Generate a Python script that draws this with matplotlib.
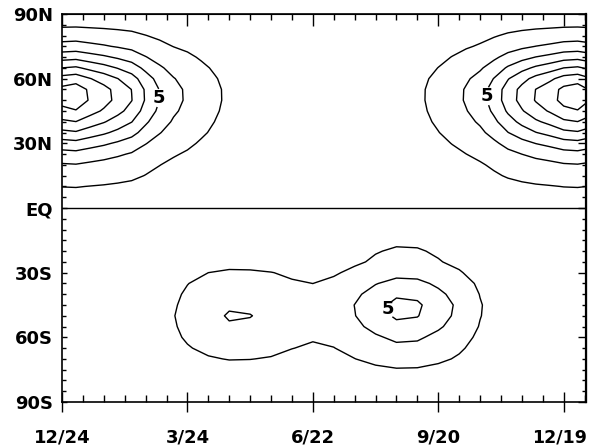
import numpy as np
import matplotlib
matplotlib.use("Agg")
import matplotlib.pyplot as plt
from matplotlib.ticker import MultipleLocator, NullFormatter
from matplotlib.transforms import ScaledTranslation

plt.rcParams['font.family'] = ['DejaVu Sans']
plt.rcParams['font.weight'] = 'bold'

# ---- axis labelling (time in days after 12/24) ----
x_ticks = [0, 90, 180, 270, 360]
x_ticklabels = ["12/24", "3/24", "6/22", "9/20", "12/19"]
y_ticks = [90, 60, 30, 0, -30, -60, -90]
y_ticklabels = ["90N", "60N", "30N", "EQ", "30S", "60S", "90S"]
levels = [1, 3, 5, 7, 9, 11, 13]
labelled_level = 5

# ---- Northern hemisphere (read: time profile at ~52N, latitude profile at peak) ----
t_north = list(range(0, 390, 10))
time_profile_north = [13.7, 14.15, 12.9, 11.8, 10.5, 9.1, 6.85, 5.0, 3.6, 2.75,
                      1.9, 1.25, 0.72, 0.3, 0.05,
                      0, 0, 0, 0, 0, 0, 0, 0, 0,
                      0.15, 0.5, 0.98, 1.55, 2.3, 3.2, 4.2, 5.9, 8.0, 9.7,
                      11.2, 12.3, 13.7, 14.15, 12.9]
lat_north = list(range(0, 95, 5))
lat_profile_north = [0.0, 0.03, 0.075, 0.14, 0.205, 0.31, 0.45, 0.62, 0.775, 0.91,
                     0.995, 0.985, 0.86, 0.657, 0.45, 0.27, 0.15, 0.05, 0.0]

# ---- Southern hemisphere: two lobes ----
t_south = list(range(0, 390, 15))
lat_south = list(range(-90, 5, 5))
time_profile_south_a = [0, 0, 0, 0, 0, 0.6, 1.6, 2.5, 3.15, 3.05, 2.6, 1.7, 1.0,
                        0.55, 0.2, 0, 0, 0, 0, 0, 0, 0, 0, 0, 0, 0]
lat_profile_south_a = [0, 0, 0, 0.12, 0.34, 0.55, 0.75, 0.9, 1.0, 0.89, 0.76,
                       0.6, 0.4, 0.12, 0, 0, 0, 0, 0]
time_profile_south_b = [0, 0, 0, 0, 0, 0, 0, 0, 0, 0, 0, 0.2, 0.6, 1.45, 2.85,
                        4.4, 5.5, 5.3, 4.0, 2.6, 1.1, 0.2, 0, 0, 0, 0]
lat_profile_south_b = [0, 0, 0.05, 0.16, 0.32, 0.46, 0.62, 0.82, 0.96, 1.0, 0.86,
                       0.66, 0.43, 0.27, 0.21, 0.14, 0, 0, 0]

north = np.outer(lat_profile_north, time_profile_north)
south = (np.outer(lat_profile_south_a, time_profile_south_a)
         + np.outer(lat_profile_south_b, time_profile_south_b))

other_levels = [lv for lv in levels if lv != labelled_level]

fig = plt.figure(figsize=(5.89, 4.48), dpi=100)
ax = fig.add_axes([62 / 589, 46 / 448, 524 / 589, 388 / 448])

ax.contour(t_north, lat_north, north, levels=other_levels, colors='k', linewidths=1.0)
ax.contour(t_south, lat_south, south, levels=other_levels, colors='k', linewidths=1.0)
cn5 = ax.contour(t_north, lat_north, north, levels=[labelled_level], colors='k',
                 linewidths=1.0)
cs5 = ax.contour(t_south, lat_south, south, levels=[labelled_level], colors='k',
                 linewidths=1.0)

lab_n = ax.clabel(cn5, inline=True, fmt='%d', fontsize=13,
                  manual=[(70, 51), (299, 52)], inline_spacing=3)
lab_s = ax.clabel(cs5, inline=True, fmt='%d', fontsize=13,
                  manual=[(233, -47)], inline_spacing=3)
for t in list(lab_n) + list(lab_s):
    t.set_rotation(0)
    t.set_fontweight('bold')

ax.axhline(0, color='k', lw=1.0)

ax.set_xlim(0, 376)
ax.set_ylim(-90, 90)

ax.set_xticks(x_ticks, x_ticklabels)
ax.xaxis.set_minor_locator(MultipleLocator(15))
ax.set_yticks(y_ticks, y_ticklabels)
ax.yaxis.set_minor_locator(MultipleLocator(5))
ax.tick_params(axis='x', which='major', direction='inout', length=14, width=1.0,
               pad=12, labelsize=13)
ax.tick_params(axis='x', which='minor', direction='in', length=5, width=1.0)
ax.tick_params(axis='y', which='major', direction='in', length=3.5, width=1.0,
               pad=6.5, labelsize=13)
ax.tick_params(axis='y', which='minor', direction='in', length=3, width=1.0)
ax.tick_params(top=False, right=False)
for lbl in ax.get_xticklabels() + ax.get_yticklabels():
    lbl.set_fontweight('bold')
last = ax.get_xticklabels()[-1]
last.set_fontsize(12.5)
last.set_transform(last.get_transform() + ScaledTranslation(-4.5 / 100, 0, fig.dpi_scale_trans))

secx = ax.secondary_xaxis('top')
secx.set_xticks(x_ticks)
secx.xaxis.set_minor_locator(MultipleLocator(15))
secx.xaxis.set_major_formatter(NullFormatter())
secx.tick_params(which='major', direction='in', length=8.5, width=1.0)
secx.tick_params(which='minor', direction='in', length=4.3, width=1.0)

secy = ax.secondary_yaxis('right')
secy.set_yticks(y_ticks)
secy.yaxis.set_minor_locator(MultipleLocator(5))
secy.yaxis.set_major_formatter(NullFormatter())
secy.tick_params(which='major', direction='in', length=5.5, width=1.0)
secy.tick_params(which='minor', direction='in', length=3, width=1.0)

for sp in ax.spines.values():
    sp.set_linewidth(1.2)
ax.spines['right'].set_linewidth(1.6)

fig.savefig('out.png', dpi=100)
